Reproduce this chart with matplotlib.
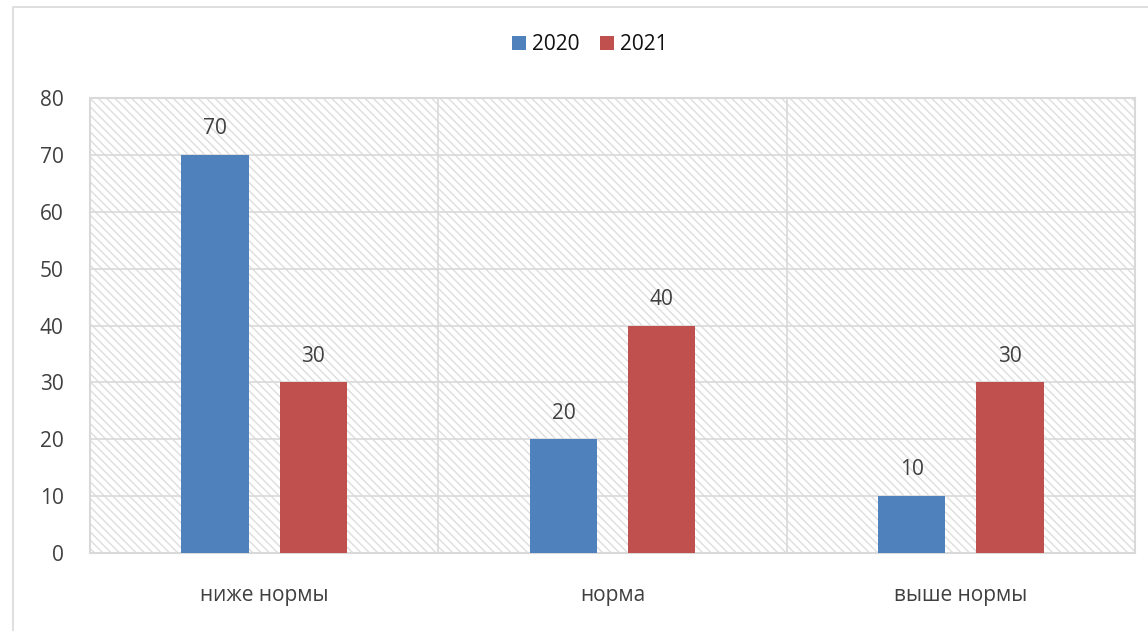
import matplotlib
matplotlib.use("Agg")
import matplotlib.pyplot as plt
import numpy as np
from matplotlib.patches import Rectangle

categories = ["ниже нормы", "норма", "выше нормы"]
series_names = ["2020", "2021"]
values_2020 = [70, 20, 10]
values_2021 = [30, 40, 30]
yticks = [0, 10, 20, 30, 40, 50, 60, 70, 80]

colors = ["#4f81bd", "#c0504d"]
grid_col = "#d9d9d9"

plt.rcParams['font.family'] = ['Open Sans', 'DejaVu Sans']
plt.rcParams['hatch.color'] = '#dedede'
plt.rcParams['hatch.linewidth'] = 1.0

W, H = 1148, 631
fig = plt.figure(figsize=(W/100, H/100), dpi=100)

# outer chart border
fig.patches.append(Rectangle((13/W, -0.01), 1.1, 1 - 7/H + 0.01, transform=fig.transFigure,
                             fill=False, edgecolor=grid_col, linewidth=1.2))

ax = fig.add_axes([90/W, 1 - 553/H, (1135-90)/W, (553-98)/H])
ax.patch.set_facecolor('white')
ax.patch.set_hatch('\\\\\\\\')
ax.patch.set_edgecolor('#dedede')

x = np.arange(len(categories))
bw = 0.193
off = 0.141
b1 = ax.bar(x - off, values_2020, bw, color=colors[0], label=series_names[0], zorder=3)
b2 = ax.bar(x + off, values_2021, bw, color=colors[1], label=series_names[1], zorder=3)

for bars in (b1, b2):
    for r in bars:
        ax.text(r.get_x() + r.get_width()/2, r.get_height() + 4.6, f"{int(r.get_height())}",
                ha='center', va='center', fontsize=15, color='#404040', zorder=4)

ax.set_xlim(-0.5, 2.5)
ax.set_ylim(0, 80)
ax.set_yticks(yticks)
ax.set_xticks(x)
ax.set_xticklabels(categories)
ax.tick_params(axis='both', length=0, labelsize=15, labelcolor='#404040')
ax.tick_params(axis='y', pad=19)
ax.tick_params(axis='x', pad=23)
for yv in yticks:
    ax.axhline(yv, color=grid_col, lw=1.2, zorder=1)
for xv in [0.5, 1.5]:
    ax.axvline(xv, color=grid_col, lw=1.2, zorder=1)
for s in ax.spines.values():
    s.set_color(grid_col)
    s.set_linewidth(1.5)

fig.legend(handles=[b1, b2], labels=series_names, loc='center', bbox_to_anchor=(590/W, 1 - 45/H),
           ncol=2, frameon=False, fontsize=15, handlelength=0.65, handleheight=0.65,
           handletextpad=0.3, columnspacing=1.0, labelcolor='#111111')

fig.savefig("out.png", dpi=100)
